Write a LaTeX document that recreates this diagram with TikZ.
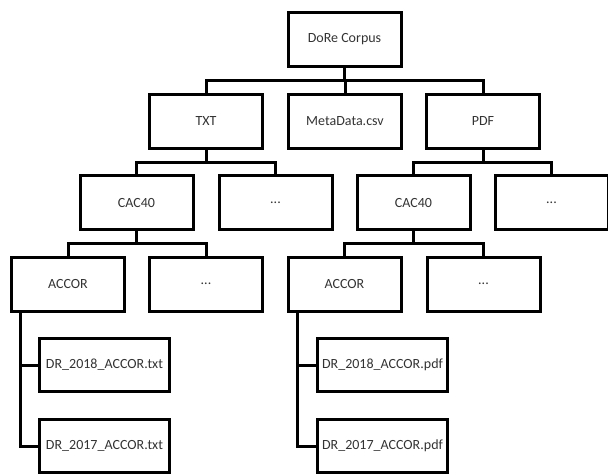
\documentclass[tikz,border=0pt]{standalone}
\usepackage{fontspec}
\setmainfont{Carlito}
\begin{document}
\begin{tikzpicture}[x=1pt,y=-1pt,
  box/.style={draw=black,line width=3pt,minimum width=113pt,minimum height=54pt,inner sep=0pt,text=black!80,font=\fontsize{14}{16}\selectfont},
  filebox/.style={box,minimum width=130pt,minimum height=53pt},
  link/.style={draw=black,line width=3pt}]
\useasboundingbox (0,0) rectangle (608,475);
% level 1
\node[box] (root) at (344.5,39.5) {DoRe Corpus};
% level 2
\node[box] (txt) at (206,121) {TXT};
\node[box] (meta) at (345,121) {MetaData.csv};
\node[box] (pdf) at (483,121) {PDF};
% level 3
\node[box] (cacL) at (136.5,202.5) {CAC40};
\node[box] (dotsA) at (275.5,202.5) {...};
\node[box] (cacR) at (413.5,202.5) {CAC40};
\node[box] (dotsB) at (551.5,202.5) {...};
% level 4
\node[box] (accL) at (68,284) {ACCOR};
\node[box] (dotsC) at (206,284) {...};
\node[box] (accR) at (344.5,284) {ACCOR};
\node[box] (dotsD) at (483.5,284) {...};
% level 5
\node[filebox] (f18L) at (104.5,365) {DR\_2018\_ACCOR.txt};
\node[filebox] (f17L) at (104.5,446) {DR\_2017\_ACCOR.txt};
\node[filebox] (f18R) at (382.5,365) {DR\_2018\_ACCOR.pdf};
\node[filebox] (f17R) at (382.5,446) {DR\_2017\_ACCOR.pdf};
% bars
\coordinate (b1) at (344.5,80);
\coordinate (b2) at (206,162);
\coordinate (b3) at (483,162);
\coordinate (b4) at (136.5,243);
\coordinate (b5) at (413.5,243);
\draw[link] (root.south) -- (b1);
\draw[link] (txt.north) |- (b1) -| (pdf.north);
\draw[link] (meta.north) -- (meta.north |- b1);
\draw[link] (txt.south) -- (b2);
\draw[link] (cacL.north) |- (b2) -| (dotsA.north);
\draw[link] (pdf.south) -- (b3);
\draw[link] (cacR.north) |- (b3) -| (dotsB.north);
\draw[link] (cacL.south) -- (b4);
\draw[link] (accL.north) |- (b4) -| (dotsC.north);
\draw[link] (cacR.south) -- (b5);
\draw[link] (accR.north) |- (b5) -| (dotsD.north);
% file trees
\coordinate (tL) at ([xshift=10.5pt]accL.south west);
\coordinate (tR) at ([xshift=10.5pt]accR.south west);
\draw[link] (tL) |- (f17L.west);
\draw[link] (f18L.west) -- (f18L.west -| tL);
\draw[link] (tR) |- (f17R.west);
\draw[link] (f18R.west) -- (f18R.west -| tR);
\end{tikzpicture}
\end{document}
